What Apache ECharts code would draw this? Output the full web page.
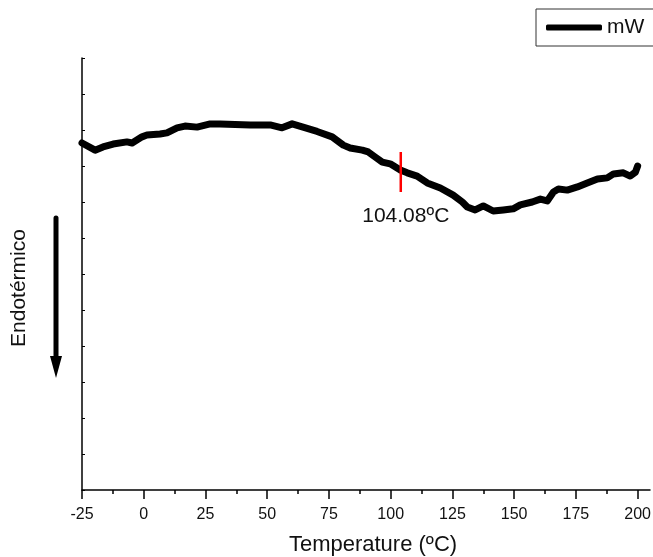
<!DOCTYPE html>
<html>
<head>
<meta charset="utf-8">
<script src="https://cdn.jsdelivr.net/npm/echarts@6/dist/echarts.min.js"></script>
<style>html,body{margin:0;padding:0;background:#fff}#c{width:653px;height:557px}</style>
</head>
<body>
<div id="c"></div>
<script>
// Temperature (ºC) of each sample
const temps = [-25.0, -19.7, -16.5, -12.4, -6.8, -4.7, -0.7, 1.3, 6.6, 9.4, 13.5, 16.7, 21.6, 26.9, 30.9, 43.1, 51.2, 56.0, 60.1, 64.5, 70.2, 76.3, 80.8, 83.6, 88.5, 90.9, 93.7, 96.6, 99.8, 103.9, 106.7, 110.7, 114.8, 120.1, 125.3, 129.0, 131.0, 134.2, 137.5, 141.5, 145.6, 149.6, 152.5, 157.3, 160.6, 163.4, 165.9, 167.9, 171.5, 175.6, 179.6, 183.7, 187.7, 190.2, 194.2, 197.0, 199.1, 200.0];
// Heat flow (mW, arbitrary units – no scale in the original)
const mW = [9.64, 9.44, 9.53, 9.61, 9.67, 9.64, 9.81, 9.86, 9.89, 9.92, 10.06, 10.11, 10.08, 10.17, 10.17, 10.14, 10.14, 10.06, 10.17, 10.08, 9.96, 9.81, 9.58, 9.5, 9.44, 9.39, 9.25, 9.11, 9.06, 8.89, 8.81, 8.72, 8.53, 8.39, 8.19, 8.0, 7.86, 7.78, 7.89, 7.75, 7.78, 7.81, 7.92, 8.0, 8.08, 8.03, 8.28, 8.36, 8.33, 8.42, 8.53, 8.64, 8.67, 8.78, 8.81, 8.72, 8.83, 9.0];
// Transition marker
const markerTemp = 104.08;
const markerRange = [9.39, 8.28];
const markerLabel = '104.08ºC';
// Axis ticks
const majorTicks = [-25, 0, 25, 50, 75, 100, 125, 150, 175, 200];
const minorTicks = [-12.5, 12.5, 37.5, 62.5, 87.5, 112.5, 137.5, 162.5, 187.5];

const FONT = '"Liberation Sans", Arial, sans-serif';
const chart = echarts.init(document.getElementById('c'), null, {renderer: 'canvas'});
chart.setOption({
  animation: false,
  backgroundColor: '#fff',
  textStyle: {fontFamily: FONT},
  grid: {left: 82, right: 3, top: 58, bottom: 67, containLabel: false, outerBoundsMode: 'none'},
  legend: {
    left: 536, top: 9,
    data: [{name: 'mW', icon: 'roundRect'}],
    itemWidth: 56, itemHeight: 6,
    borderColor: '#333', borderWidth: 1, borderRadius: 0,
    padding: [8, 20, 8, 10],
    textStyle: {fontSize: 21, color: '#111', fontFamily: FONT}
  },
  xAxis: [{
    type: 'value', min: -25, max: 205,
    name: 'Temperature (ºC)', nameLocation: 'middle', nameGap: 44,
    nameTextStyle: {fontSize: 22, color: '#111', fontFamily: FONT, padding: [0, 0, 0, 14]},
    axisLine: {show: true, onZero: false, lineStyle: {color: '#000', width: 1.5}},
    axisTick: {show: true, inside: false, length: 9, customValues: majorTicks, lineStyle: {color: '#000', width: 1.5}},
    axisLabel: {show: true, customValues: majorTicks, margin: 17, fontSize: 16, color: '#111', fontFamily: FONT},
    splitLine: {show: false}
  }, {
    type: 'value', min: -25, max: 205, position: 'bottom',
    axisLine: {show: false},
    axisTick: {show: true, inside: false, length: 4, customValues: minorTicks, lineStyle: {color: '#000', width: 1.5}},
    axisLabel: {show: false},
    splitLine: {show: false}
  }],
  yAxis: {
    type: 'value', min: 0, max: 12, interval: 1,
    name: 'Endotérmico', nameLocation: 'middle', nameRotate: 90, nameGap: 52,
    nameTextStyle: {fontSize: 21, color: '#111', fontFamily: FONT, padding: [0, 28, 0, 0]},
    axisLine: {show: true, onZero: false, lineStyle: {color: '#000', width: 1.5}},
    axisTick: {show: true, inside: true, length: 3, lineStyle: {color: '#000', width: 1}},
    axisLabel: {show: false},
    splitLine: {show: false}
  },
  series: [{
    name: 'mW', type: 'line', xAxisIndex: 0,
    data: temps.map((t, i) => [t, mW[i]]),
    showSymbol: false, smooth: false,
    itemStyle: {color: '#000'},
    lineStyle: {color: '#000', width: 7, cap: 'round', join: 'round'}
  }, {
    name: 'marker', type: 'line', xAxisIndex: 0,
    data: [[markerTemp, markerRange[0]], {value: [markerTemp, markerRange[1]], label: {show: true}}],
    showSymbol: true, symbol: 'circle', symbolSize: 1,
    itemStyle: {color: 'rgba(0,0,0,0)'},
    lineStyle: {color: '#ff0000', width: 2.5},
    label: {show: false, position: 'bottom', distance: 13, offset: [5, 0], formatter: markerLabel, fontSize: 21, color: '#111', fontFamily: FONT},
    silent: true
  }],
  graphic: [{
    type: 'line', shape: {x1: 56, y1: 218, x2: 56, y2: 360},
    style: {stroke: '#000', lineWidth: 5, lineCap: 'round'}
  }, {
    type: 'polygon', shape: {points: [[50, 356], [62, 356], [56, 378]]},
    style: {fill: '#000'}
  }]
});
</script>
</body>
</html>
